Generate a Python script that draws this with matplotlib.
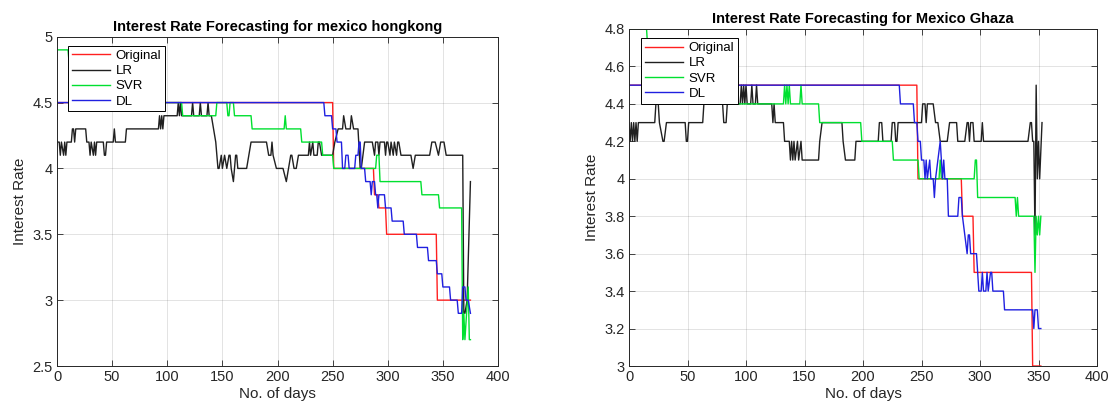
import matplotlib
matplotlib.use("Agg")
import matplotlib.pyplot as plt

plt.rcParams['font.family'] = ['Liberation Sans', 'DejaVu Sans']

# ---------------- Left chart: mexico hongkong ----------------
hk_orig_day = [0, 250, 251, 287, 288, 291, 292, 298, 299, 344, 345, 375]
hk_orig_rate = [4.5, 4.5, 4.0, 4.0, 3.8, 3.8, 3.7, 3.7, 3.5, 3.5, 3.0, 3.0]

hk_lr_day = [0, 2, 3, 4, 6, 7, 8, 9, 13, 14, 15, 16, 17, 26, 27, 29, 30, 31, 33, 34, 35, 36,
             42, 43, 44, 45, 51, 52, 53, 62, 63, 92, 93, 94, 95, 96, 97, 109, 110, 111, 112, 113,
             122, 123, 124, 129, 130, 131, 136, 137, 138, 140, 142, 144, 146, 147, 149, 150, 152,
             154, 156, 157, 158, 160, 161, 162, 163, 164, 172, 174, 176, 190, 192, 194, 195, 196,
             199, 205, 208, 210, 212, 213, 215, 217, 219, 228, 229, 230, 232, 233, 236, 237, 238,
             240, 250, 252, 255, 259, 260, 262, 266, 267, 269, 273, 275, 276, 279, 286, 288, 289,
             291, 292, 293, 297, 298, 299, 300, 302, 303, 305, 306, 308, 309, 310, 312, 321, 323,
             325, 338, 340, 343, 346, 348, 351, 353, 368, 369, 370, 372, 375]
hk_lr_rate = [4.2, 4.2, 4.1, 4.2, 4.1, 4.2, 4.1, 4.2, 4.2, 4.3, 4.3, 4.2, 4.3, 4.3, 4.2, 4.2, 4.1, 4.2, 4.1, 4.2, 4.1, 4.2,
              4.2, 4.1, 4.1, 4.2, 4.2, 4.3, 4.2, 4.2, 4.3, 4.3, 4.4, 4.3, 4.4, 4.3, 4.4, 4.4, 4.5, 4.4, 4.5, 4.4,
              4.4, 4.5, 4.4, 4.4, 4.5, 4.4, 4.4, 4.5, 4.4, 4.4, 4.3, 4.2, 4.0, 4.0, 4.1, 4.0, 4.1,
              4.0, 4.1, 4.1, 4.0, 3.9, 4.0, 4.1, 4.1, 4.0, 4.0, 4.1, 4.2, 4.2, 4.1, 4.1, 4.2, 4.1,
              4.0, 4.0, 3.9, 4.0, 4.1, 4.1, 4.0, 4.0, 4.1, 4.1, 4.2, 4.1, 4.2, 4.1, 4.1, 4.2, 4.2,
              4.1, 4.1, 4.2, 4.3, 4.3, 4.4, 4.3, 4.3, 4.4, 4.3, 4.3, 4.0, 4.0, 4.2, 4.2, 4.1, 4.2,
              4.2, 4.1, 4.2, 4.2, 4.1, 4.2, 4.2, 4.1, 4.2, 4.1, 4.2, 4.1, 4.2, 4.2, 4.1, 4.1, 4.0,
              4.1, 4.1, 4.2, 4.2, 4.1, 4.2, 4.2, 4.1, 4.1, 2.9, 2.9, 3.0, 3.9]

hk_svr_day = [0, 10, 11, 40, 41, 75, 76, 95, 96, 113, 114, 144, 145, 154, 155, 156, 157, 160, 161,
              176, 177, 206, 207, 208, 221, 222, 240, 241, 250, 251, 289, 290, 292, 293, 330, 331,
              346, 347, 367, 368, 369, 370, 373, 374, 375]
hk_svr_rate = [4.9, 4.9, 4.8, 4.8, 4.7, 4.7, 4.6, 4.6, 4.5, 4.5, 4.4, 4.4, 4.5, 4.5, 4.4, 4.4, 4.5, 4.5, 4.4,
               4.4, 4.3, 4.3, 4.4, 4.3, 4.3, 4.2, 4.2, 4.1, 4.1, 4.0, 4.0, 4.1, 4.1, 3.9, 3.9, 3.8,
               3.8, 3.7, 3.7, 2.7, 2.9, 2.7, 3.1, 2.7, 2.7]

hk_dl_day = [0, 242, 243, 249, 250, 253, 254, 258, 259, 261, 262, 264, 265, 270, 271, 273, 274, 275,
             276, 279, 280, 284, 285, 286, 288, 289, 290, 291, 292, 297, 298, 303, 304, 314, 315, 326,
             327, 336, 337, 344, 345, 349, 350, 356, 357, 363, 364, 367, 368, 370, 371, 373, 375]
hk_dl_rate = [4.5, 4.5, 4.4, 4.4, 4.3, 4.3, 4.2, 4.2, 4.0, 4.0, 4.1, 4.1, 4.0, 4.0, 4.1, 4.1, 4.2, 4.2,
              4.0, 4.0, 3.9, 3.9, 3.8, 3.9, 3.9, 3.8, 3.8, 3.7, 3.8, 3.8, 3.7, 3.7, 3.6, 3.6, 3.5, 3.5,
              3.4, 3.4, 3.3, 3.3, 3.2, 3.2, 3.1, 3.1, 3.0, 3.0, 2.9, 2.9, 3.1, 3.1, 3.0, 3.0, 2.9]

# ---------------- Right chart: Mexico Ghaza ----------------
gz_orig_day = [0, 246, 247, 284, 285, 294, 295, 344, 345, 352]
gz_orig_rate = [4.5, 4.5, 4.0, 4.0, 3.8, 3.8, 3.5, 3.5, 3.0, 3.0]

gz_lr_day = [0, 1, 2, 3, 4, 5, 6, 7, 8, 22, 23, 25, 26, 29, 30, 32, 48, 49, 50, 51, 63, 64, 80, 81,
             83, 84, 95, 96, 97, 98, 99, 100, 101, 104, 105, 106, 108, 109, 110, 122, 123, 124, 125,
             132, 133, 137, 138, 139, 140, 141, 142, 144, 145, 147, 148, 162, 163, 165, 182, 183,
             185, 193, 194, 213, 214, 216, 217, 224, 225, 227, 228, 229, 230, 232, 250, 251, 253,
             254, 255, 260, 262, 264, 266, 272, 274, 280, 281, 287, 289, 290, 291, 292, 294, 295,
             297, 301, 302, 303, 341, 343, 344, 345, 346, 347, 348, 349, 350, 351, 353]
gz_lr_rate = [4.3, 4.2, 4.3, 4.2, 4.3, 4.2, 4.3, 4.2, 4.3, 4.3, 4.4, 4.4, 4.3, 4.2, 4.2, 4.3, 4.3, 4.2, 4.2, 4.3, 4.3, 4.4, 4.4, 4.3,
              4.3, 4.4, 4.4, 4.5, 4.4, 4.5, 4.4, 4.5, 4.4, 4.4, 4.5, 4.4, 4.4, 4.5, 4.4, 4.4, 4.3, 4.4, 4.3,
              4.3, 4.2, 4.2, 4.1, 4.2, 4.1, 4.2, 4.1, 4.2, 4.1, 4.2, 4.1, 4.1, 4.2, 4.3, 4.3, 4.2,
              4.1, 4.1, 4.2, 4.2, 4.3, 4.3, 4.2, 4.2, 4.3, 4.3, 4.2, 4.2, 4.3, 4.3, 4.3, 4.4, 4.4,
              4.3, 4.4, 4.4, 4.3, 4.3, 4.2, 4.2, 4.3, 4.3, 4.2, 4.2, 4.3, 4.3, 4.2, 4.3, 4.3, 4.2,
              4.2, 4.2, 4.3, 4.2, 4.2, 4.3, 4.3, 4.2, 4.2, 3.7, 4.5, 4.0, 4.2, 4.0, 4.3]

gz_svr_day = [0, 15, 16, 40, 41, 70, 71, 132, 133, 134, 135, 136, 137, 138, 146, 147, 148, 162, 163,
              198, 199, 225, 226, 247, 248, 265, 266, 267, 295, 296, 297, 298, 330, 331, 332, 333,
              346, 347, 348, 349, 350, 351, 352]
gz_svr_rate = [4.8, 4.8, 4.7, 4.7, 4.6, 4.6, 4.4, 4.4, 4.5, 4.4, 4.5, 4.4, 4.5, 4.4, 4.4, 4.5, 4.4, 4.4, 4.3,
               4.3, 4.2, 4.2, 4.1, 4.1, 4.0, 4.0, 4.1, 4.0, 4.0, 4.1, 4.1, 3.9, 3.9, 3.8, 3.9, 3.8,
               3.8, 3.5, 3.8, 3.7, 3.8, 3.7, 3.8]

gz_dl_day = [0, 231, 232, 243, 244, 246, 247, 249, 250, 252, 253, 254, 255, 257, 258, 260, 261, 262,
             264, 266, 267, 268, 269, 270, 272, 273, 281, 282, 284, 285, 287, 289, 290, 291, 292, 297,
             298, 299, 301, 302, 303, 305, 306, 307, 309, 310, 311, 320, 321, 345, 346, 347, 349, 350, 352]
gz_dl_rate = [4.5, 4.5, 4.4, 4.4, 4.3, 4.3, 4.2, 4.2, 4.1, 4.1, 4.0, 4.1, 4.0, 4.1, 4.0, 4.0, 3.9, 4.0,
              4.1, 4.2, 4.1, 4.0, 4.1, 4.0, 4.0, 3.8, 3.8, 3.9, 3.9, 3.8, 3.7, 3.6, 3.7, 3.7, 3.6, 3.6,
              3.5, 3.4, 3.4, 3.5, 3.4, 3.4, 3.5, 3.4, 3.5, 3.5, 3.4, 3.4, 3.3, 3.3, 3.2, 3.3, 3.3, 3.2, 3.2]

series_labels = ['Original', 'LR', 'SVR', 'DL']
series_colors = ['#ff2020', '#202020', '#00e030', '#2020e0']
x_ticks = [0, 50, 100, 150, 200, 250, 300, 350, 400]
hk_y_ticks = [2.5, 3, 3.5, 4, 4.5, 5]
gz_y_ticks = [3, 3.2, 3.4, 3.6, 3.8, 4, 4.2, 4.4, 4.6, 4.8]

fig = plt.figure(figsize=(11.1, 4.05), dpi=100)
ax1 = fig.add_axes([57/1110, 1-366/405, 441/1110, (366-36.7)/405])
ax2 = fig.add_axes([629/1110, 1-366/405, 468/1110, (366-29)/405])

axc = (0.15, 0.15, 0.15)


def style(ax, yticks, ylim, title, title_pad):
    ax.set_xlim(0, 400)
    ax.set_ylim(*ylim)
    ax.set_xticks(x_ticks)
    ax.set_yticks(yticks)
    ax.set_yticklabels([('%g' % v) for v in yticks])
    ax.grid(True, color=(0.15, 0.15, 0.15), alpha=0.15, linewidth=0.6)
    ax.set_axisbelow(True)
    ax.tick_params(direction='in', top=True, right=True, length=4, width=0.6,
                   colors=axc, labelsize=10.5, labelcolor=axc, pad=3)
    for s in ax.spines.values():
        s.set_color(axc)
        s.set_linewidth(0.7)
    ax.set_title(title, fontsize=10.5, fontweight='bold', pad=title_pad)
    ax.set_xlabel('No. of days', fontsize=11, color=axc, labelpad=2)
    ax.set_ylabel('Interest Rate', fontsize=11, color=axc, labelpad=4)


data1 = [(hk_orig_day, hk_orig_rate), (hk_lr_day, hk_lr_rate), (hk_svr_day, hk_svr_rate), (hk_dl_day, hk_dl_rate)]
data2 = [(gz_orig_day, gz_orig_rate), (gz_lr_day, gz_lr_rate), (gz_svr_day, gz_svr_rate), (gz_dl_day, gz_dl_rate)]

for ax, data in ((ax1, data1), (ax2, data2)):
    for (d, r), lab, col in zip(data, series_labels, series_colors):
        ax.plot(d, r, color=col, linewidth=1.0, label=lab)

style(ax1, hk_y_ticks, (2.5, 5), 'Interest Rate Forecasting for mexico hongkong', 4)
style(ax2, gz_y_ticks, (3, 4.8), 'Interest Rate Forecasting for Mexico Ghaza', 4)

for ax, anchor in ((ax1, (0.025, 0.972)), (ax2, (0.026, 0.973))):
    leg = ax.legend(loc='upper left', bbox_to_anchor=anchor, borderaxespad=0,
                    fancybox=False, framealpha=1, edgecolor='black', fontsize=9.5,
                    handlelength=2.9, handletextpad=0.4, labelspacing=0.22,
                    borderpad=0.3)
    leg.get_frame().set_linewidth(0.7)

fig.savefig('out.png', dpi=100)
